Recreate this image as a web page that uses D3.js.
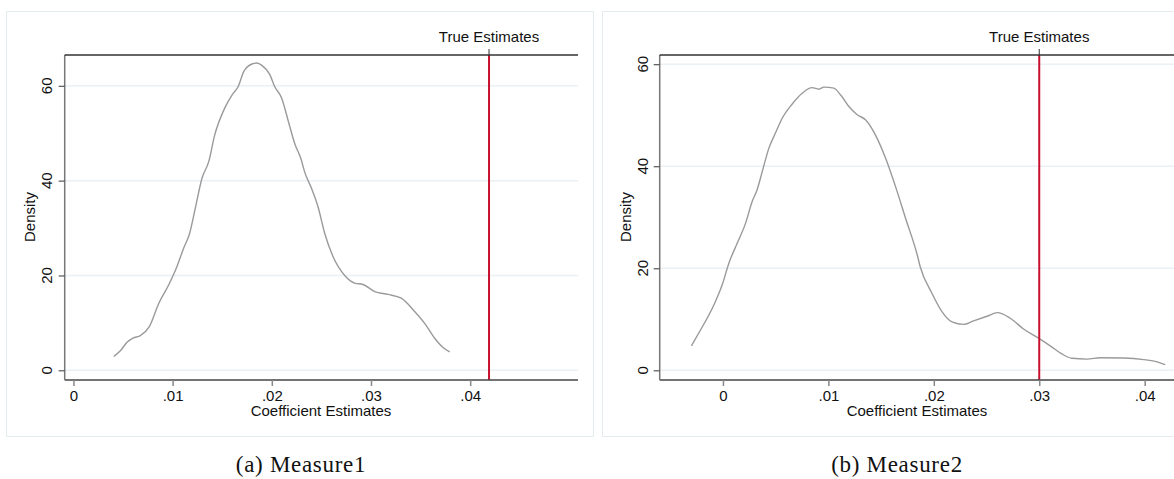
<!DOCTYPE html>
<html>
<head>
<meta charset="utf-8">
<script src="https://cdn.jsdelivr.net/npm/d3@7"></script>
<style>
  body { margin: 0; background: #fff; }
  svg { display: block; }
  text { font-family: "Liberation Sans", Arial, sans-serif; fill: #111; }
  .caption { font-family: "Liberation Serif", "Times New Roman", serif; font-size: 23px; letter-spacing: 0.7px; }
</style>
</head>
<body>
<svg id="chart"></svg>
<script>
// Measure1 kernel density (coefficient, density)
const m1Coef = [0.00406, 0.00473, 0.0054, 0.0060, 0.00675, 0.00765, 0.0086, 0.0096, 0.01044, 0.0111,
  0.01172, 0.01229, 0.01296, 0.01364, 0.01424, 0.01525, 0.016, 0.0166, 0.01717, 0.018,
  0.0185, 0.019, 0.01979, 0.0203, 0.021, 0.02163, 0.0223, 0.02297, 0.0233, 0.024,
  0.02466, 0.02533, 0.02617, 0.02735, 0.02835, 0.0292, 0.03037, 0.03171, 0.03305, 0.0344,
  0.03541, 0.03642, 0.03726, 0.03793];
const m1Dens = [2.9, 4.1, 5.9, 6.8, 7.3, 9.2, 14.1, 18.0, 21.9, 25.7,
  28.9, 34.2, 40.5, 44.0, 49.6, 55.3, 58.1, 59.8, 63.0, 64.6,
  64.8, 64.3, 62.4, 59.8, 57.4, 52.8, 47.9, 44.4, 41.9, 38.4,
  34.5, 28.9, 24.0, 20.0, 18.4, 18.1, 16.6, 16.0, 15.2, 12.4,
  9.9, 6.75, 4.8, 3.9];

// Measure2 kernel density
const m2Coef = [-0.00299, -0.00213, -0.0015, -0.00071, -0.00008, 0.00056, 0.00135, 0.00214, 0.00277, 0.00324,
  0.00372, 0.00435, 0.00498, 0.00562, 0.00657, 0.00751, 0.00846, 0.0091, 0.00957, 0.01052,
  0.01115, 0.01194, 0.01273, 0.01352, 0.01447, 0.01542, 0.01637, 0.01732, 0.01843, 0.01871,
  0.01982, 0.02077, 0.02172, 0.02282, 0.02377, 0.02504, 0.02605, 0.02725, 0.02851, 0.02993,
  0.03104, 0.03215, 0.0331, 0.03453, 0.03579, 0.038, 0.0399, 0.041, 0.04195];
const m2Dens = [4.8, 7.9, 10.2, 13.5, 16.7, 21.0, 24.9, 28.8, 33.1, 35.4,
  38.9, 43.5, 46.5, 49.4, 52.2, 54.3, 55.4, 55.1, 55.5, 55.3,
  54.0, 51.7, 50.1, 49.1, 46.1, 41.6, 36.0, 29.8, 22.6, 20.3,
  15.1, 11.5, 9.5, 9.0, 9.7, 10.6, 11.3, 10.2, 8.1, 6.3,
  4.8, 3.2, 2.35, 2.2, 2.47, 2.4, 2.1, 1.76, 1.1];

const trueEstimates = [0.0419, 0.030];
const xTicks = [0, 0.01, 0.02, 0.03, 0.04];
const xTickLabels = ["0", ".01", ".02", ".03", ".04"];
const yTicks = [0, 20, 40, 60];
const captions = ["(a)  Measure1", "(b)  Measure2"];

const W = 1174, H = 479;
const svg = d3.select('#chart').attr('width', W).attr('height', H);

// panel geometry
const panels = [
  { box: [6.5, 11.5, 587, 425], left: 64.7, right: 578, top: 55, bottom: 380,
    xDom: [-0.00088, 0.05087], yDom: [-2.05, 66.5], ylabX: 52, densX: 35, capX: 301, titleX: 321,
    coef: m1Coef, dens: m1Dens, truth: trueEstimates[0], cap: captions[0] },
  { box: [602.5, 11.5, 600, 425], left: 659.7, right: 1190, top: 55, bottom: 380,
    xDom: [-0.006, 0.0443], yDom: [-1.9, 61.8], ylabX: 648, densX: 631, capX: 897, titleX: 917,
    coef: m2Coef, dens: m2Dens, truth: trueEstimates[1], cap: captions[1] }
];

panels.forEach(p => {
  const g = svg.append('g');
  const x = d3.scaleLinear().domain(p.xDom).range([p.left, p.right]);
  const y = d3.scaleLinear().domain(p.yDom).range([p.bottom, p.top]);

  // outer light frame
  g.append('rect')
    .attr('x', p.box[0]).attr('y', p.box[1])
    .attr('width', p.box[2]).attr('height', p.box[3])
    .attr('fill', 'none').attr('stroke', '#e4ecef').attr('stroke-width', 1);

  // gridlines
  g.selectAll('.grid').data(yTicks).enter().append('line')
    .attr('x1', p.left).attr('x2', p.right)
    .attr('y1', d => y(d)).attr('y2', d => y(d))
    .attr('stroke', '#eaf0f3').attr('stroke-width', 1.5);

  // density curve
  const pts = p.coef.map((c, i) => [c, p.dens[i]]);
  g.append('path')
    .datum(pts)
    .attr('d', d3.line().x(d => x(d[0])).y(d => y(d[1])).curve(d3.curveMonotoneX))
    .attr('fill', 'none').attr('stroke', '#9a9a9a').attr('stroke-width', 1.4);

  // true estimate line
  g.append('line')
    .attr('x1', x(p.truth)).attr('x2', x(p.truth))
    .attr('y1', p.top).attr('y2', p.bottom)
    .attr('stroke', '#c8102e').attr('stroke-width', 2);

  // bottom axis
  const xAxis = d3.axisBottom(x).tickValues(xTicks)
    .tickFormat((d, i) => xTickLabels[i]).tickSize(6).tickSizeOuter(0);
  const xa = g.append('g').attr('transform', `translate(0,${p.bottom})`).call(xAxis);
  xa.select('.domain').attr('stroke', '#444').attr('stroke-width', 1.5)
    .attr('d', `M${p.left},0H${p.right}`);
  xa.selectAll('.tick line').attr('stroke', '#888').attr('stroke-width', 1.5);
  xa.selectAll('.tick text').attr('y', 10).attr('dy', '0.71em')
    .style('font-size', '15px').style('font-family', '"Liberation Sans", Arial, sans-serif').attr('fill', '#111');

  // left axis
  const yAxis = d3.axisLeft(y).tickValues(yTicks).tickSize(6).tickSizeOuter(0).tickFormat(d3.format('d'));
  const ya = g.append('g').attr('transform', `translate(${p.left},0)`).call(yAxis);
  ya.select('.domain').attr('stroke', '#777').attr('stroke-width', 1.5)
    .attr('d', `M0,${p.top}V${p.bottom}`);
  ya.selectAll('.tick line').attr('stroke', '#555').attr('stroke-width', 1.2);
  ya.selectAll('.tick text').remove();
  g.selectAll('.ylab').data(yTicks).enter().append('text')
    .attr('transform', d => `translate(${p.ylabX},${y(d)}) rotate(-90)`)
    .attr('text-anchor', 'middle').style('font-size', '15px').text(d => d);

  // top axis with the true estimate tick
  g.append('line').attr('x1', p.left).attr('x2', p.right)
    .attr('y1', p.top).attr('y2', p.top).attr('stroke', '#333').attr('stroke-width', 1.5);
  g.append('line').attr('x1', x(p.truth)).attr('x2', x(p.truth))
    .attr('y1', p.top - 6).attr('y2', p.top).attr('stroke', '#333').attr('stroke-width', 1);
  g.append('text').attr('x', x(p.truth)).attr('y', 42)
    .attr('text-anchor', 'middle').style('font-size', '15px').text('True Estimates');

  // axis titles
  g.append('text').attr('x', p.titleX).attr('y', 416)
    .attr('text-anchor', 'middle').style('font-size', '15px').text('Coefficient Estimates');
  g.append('text').attr('transform', `translate(${p.densX},217) rotate(-90)`)
    .attr('text-anchor', 'middle').style('font-size', '15px').text('Density');

  // caption
  svg.append('text').attr('class', 'caption').attr('x', p.capX).attr('y', 472)
    .attr('text-anchor', 'middle').text(p.cap);
});
</script>
</body>
</html>
